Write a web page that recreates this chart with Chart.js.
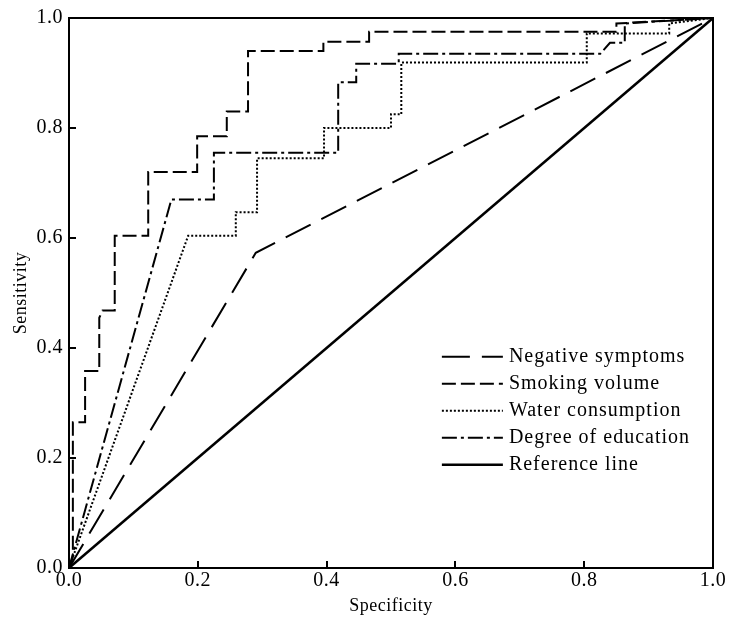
<!DOCTYPE html>
<html>
<head>
<meta charset="utf-8">
<script src="https://cdn.jsdelivr.net/npm/chart.js@4/dist/chart.umd.min.js"></script>
<style>
  html, body { margin: 0; padding: 0; background: #fff; }
</style>
</head>
<body>
<canvas id="rocChart" width="729" height="617"></canvas>
<script>
// ROC curves
var seriesNames = ["Negative symptoms", "Smoking volume", "Water consumption", "Degree of education", "Reference line"];
var tickValues = [0, 0.2, 0.4, 0.6, 0.8, 1.0];

var negativeX = [0, 0.29, 1];
var negativeY = [0, 0.573, 1];

var smokingX = [0, 0.006, 0.006, 0.025, 0.025, 0.047, 0.047, 0.052, 0.071, 0.071, 0.123, 0.123, 0.199, 0.199, 0.245, 0.245, 0.278, 0.278, 0.395, 0.395, 0.466, 0.466, 0.85, 0.85, 1];
var smokingY = [0, 0.02, 0.265, 0.265, 0.358, 0.358, 0.455, 0.468, 0.468, 0.604, 0.604, 0.72, 0.72, 0.785, 0.785, 0.83, 0.83, 0.94, 0.94, 0.957, 0.957, 0.975, 0.975, 0.99, 1];

var waterX = [0, 0.185, 0.259, 0.259, 0.292, 0.292, 0.396, 0.396, 0.5, 0.5, 0.516, 0.516, 0.804, 0.804, 0.932, 0.932, 1];
var waterY = [0, 0.604, 0.604, 0.647, 0.647, 0.745, 0.745, 0.80, 0.80, 0.825, 0.825, 0.919, 0.919, 0.972, 0.972, 0.99, 1];

var educationX = [0, 0.159, 0.225, 0.225, 0.418, 0.418, 0.446, 0.446, 0.512, 0.512, 0.825, 0.84, 0.863, 0.863, 1];
var educationY = [0, 0.67, 0.67, 0.755, 0.755, 0.883, 0.883, 0.917, 0.917, 0.935, 0.935, 0.955, 0.955, 0.99, 1];

var referenceX = [0, 1];
var referenceY = [0, 1];

var serif = "'Liberation Serif', 'Times New Roman', serif";

function toPoints(xs, ys) {
  return xs.map(function (x, i) { return { x: x, y: ys[i] }; });
}

function lineSet(label, xs, ys, dash, width) {
  return {
    label: label,
    data: toPoints(xs, ys),
    borderColor: "#000",
    borderWidth: width,
    borderDash: dash,
    pointRadius: 0,
    tension: 0,
    fill: false
  };
}

// frame on top/right plus inward tick marks
var framePlugin = {
  id: "frame",
  beforeDraw: function (chart) {
    chart.ctx.letterSpacing = "0.5px";
  },
  afterDraw: function (chart) {
    var ctx = chart.ctx;
    var ca = chart.chartArea;
    var xs = chart.scales.x, ys = chart.scales.y;
    ctx.save();
    ctx.strokeStyle = "#000";
    ctx.lineWidth = 2;
    ctx.setLineDash([]);
    ctx.strokeRect(ca.left, ca.top, ca.right - ca.left, ca.bottom - ca.top);
    ctx.beginPath();
    tickValues.forEach(function (v) {
      if (v <= 0 || v >= 1) return;
      var px = Math.round(xs.getPixelForValue(v));
      ctx.moveTo(px, ca.bottom);
      ctx.lineTo(px, ca.bottom - 7);
      var py = Math.round(ys.getPixelForValue(v));
      ctx.moveTo(ca.left, py);
      ctx.lineTo(ca.left + 7, py);
    });
    ctx.stroke();
    ctx.restore();
  }
};

// legend inside the plot, lower right
var legendPlugin = {
  id: "innerLegend",
  afterDraw: function (chart) {
    var ctx = chart.ctx;
    var ca = chart.chartArea;
    var w = ca.right - ca.left, h = ca.bottom - ca.top;
    var x0 = ca.left + w * 0.579;
    var y0 = ca.top + h * 0.616;
    var rowH = 27;
    ctx.save();
    ctx.font = "20px " + serif;
    ctx.letterSpacing = "1px";
    ctx.fillStyle = "#000";
    ctx.textBaseline = "middle";
    ctx.textAlign = "left";
    chart.data.datasets.forEach(function (ds, i) {
      var y = y0 + i * rowH;
      ctx.beginPath();
      ctx.strokeStyle = "#000";
      ctx.lineWidth = ds.borderWidth;
      ctx.setLineDash(ds.borderDash || []);
      ctx.moveTo(x0, y);
      ctx.lineTo(x0 + 61, y);
      ctx.stroke();
      ctx.setLineDash([]);
      ctx.fillText(ds.label, x0 + 67, y);
    });
    ctx.restore();
  }
};

var tickFont = { family: serif, size: 20 };
var titleFont = { family: serif, size: 18 };

new Chart(document.getElementById("rocChart"), {
  type: "line",
  data: {
    datasets: [
      lineSet(seriesNames[0], negativeX, negativeY, [28, 12], 2),
      lineSet(seriesNames[1], smokingX, smokingY, [14, 5], 2),
      lineSet(seriesNames[2], waterX, waterY, [2, 2], 2),
      lineSet(seriesNames[3], educationX, educationY, [15, 4, 3, 4], 2),
      lineSet(seriesNames[4], referenceX, referenceY, [], 2.5)
    ]
  },
  options: {
    responsive: false,
    animation: false,
    layout: { padding: { left: 8, right: 16, top: 16, bottom: 0 } },
    plugins: {
      legend: { display: false },
      tooltip: { enabled: false }
    },
    scales: {
      x: {
        type: "linear",
        min: 0,
        max: 1,
        afterFit: function (scale) { scale.height = 49; },
        afterBuildTicks: function (scale) {
          scale.ticks = tickValues.map(function (v) { return { value: v }; });
        },
        ticks: {
          callback: function (v) { return Number(v).toFixed(1); },
          font: tickFont,
          color: "#000",
          padding: 1,
          maxRotation: 0,
          autoSkip: false
        },
        grid: { display: true, drawOnChartArea: false, drawTicks: false },
        border: { display: true, color: "#000", width: 2 },
        title: { display: true, text: "Specificity", font: titleFont, color: "#000", padding: { top: 0, bottom: 0 } }
      },
      y: {
        type: "linear",
        min: 0,
        max: 1,
        afterFit: function (scale) { scale.width = 61; },
        afterBuildTicks: function (scale) {
          scale.ticks = tickValues.map(function (v) { return { value: v }; });
        },
        ticks: {
          callback: function (v) { return Number(v).toFixed(1); },
          font: tickFont,
          color: "#000",
          padding: 6,
          autoSkip: false
        },
        grid: { display: true, drawOnChartArea: false, drawTicks: false },
        border: { display: true, color: "#000", width: 2 },
        title: { display: true, text: "Sensitivity", font: titleFont, color: "#000", padding: { top: 2, bottom: 0 } }
      }
    }
  },
  plugins: [framePlugin, legendPlugin]
});
</script>
</body>
</html>
